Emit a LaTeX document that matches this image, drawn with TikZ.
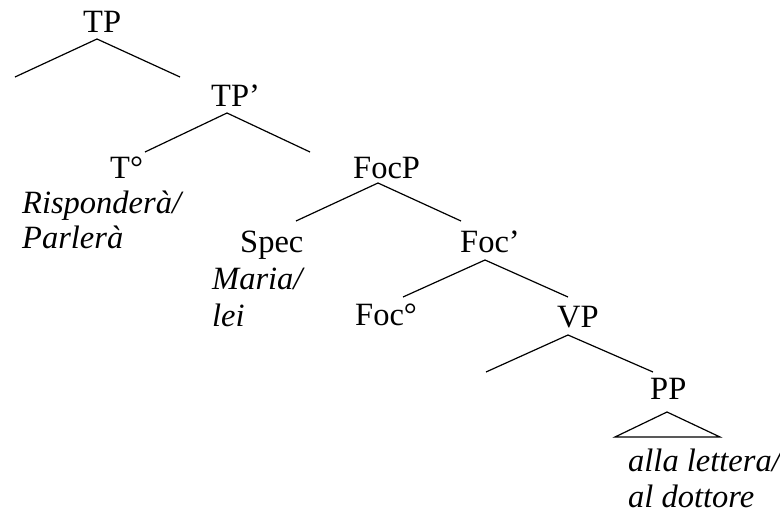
\documentclass[tikz,border=0pt]{standalone}
\usepackage{fontspec}
\setmainfont{Liberation Serif}
\begin{document}
\begin{tikzpicture}[x=1pt,y=-1pt,
  lab/.style={anchor=base west,inner sep=0pt,font=\fontsize{32.5}{38}\selectfont},
  ital/.style={lab,font=\fontsize{32.5}{38}\selectfont\itshape},
  br/.style={line width=1.2pt}]
\useasboundingbox (0,0) rectangle (780,514);
% labels
\node[lab] (tp) at (83,32) {TP};
\node[lab] (tpb) at (211,106) {TP’};
\node[lab] (t0) at (110,178) {T°};
\node[ital] (risp) at (22,213) {Risponderà/};
\node[ital] (parl) at (22,248) {Parlerà};
\node[lab] (focp) at (353,178) {FocP};
\node[lab] (spec) at (240,252) {Spec};
\node[ital] (maria) at (212,289) {Maria/};
\node[ital] (lei) at (212,326) {lei};
\node[lab] (focb) at (460,252) {Foc’};
\node[lab] (foc0) at (355,325) {Foc°};
\node[lab] (vp) at (557,327) {VP};
\node[lab] (pp) at (650,399) {PP};
\node[ital] (alla) at (628,471) {alla lettera/};
\node[ital] (aldot) at (628,507) {al dottore};
% branch points
\coordinate (tpA) at (97,39);
\coordinate (tpL) at (15,77);
\coordinate (tpR) at (180,77);
\coordinate (tpbA) at (227,113);
\coordinate (tpbL) at (145,152);
\coordinate (tpbR) at (310,152);
\coordinate (focpA) at (378,183);
\coordinate (focpL) at (296,221);
\coordinate (focpR) at (461,221);
\coordinate (focbA) at (485,260);
\coordinate (focbL) at (403,297);
\coordinate (focbR) at (568,297);
\coordinate (vpA) at (568,335);
\coordinate (vpL) at (486,372);
\coordinate (vpR) at (653,372);
\coordinate (ppA) at (667,412);
\coordinate (ppL) at (615,437);
\coordinate (ppR) at (720,437);
% branches
\draw[br] (tpL) -- (tpA) -- (tpR);
\draw[br] (tpbL) -- (tpbA) -- (tpbR);
\draw[br] (focpL) -- (focpA) -- (focpR);
\draw[br] (focbL) -- (focbA) -- (focbR);
\draw[br] (vpL) -- (vpA) -- (vpR);
\draw[br] (ppL) -- (ppA) -- (ppR) -- cycle;
\end{tikzpicture}
\end{document}
